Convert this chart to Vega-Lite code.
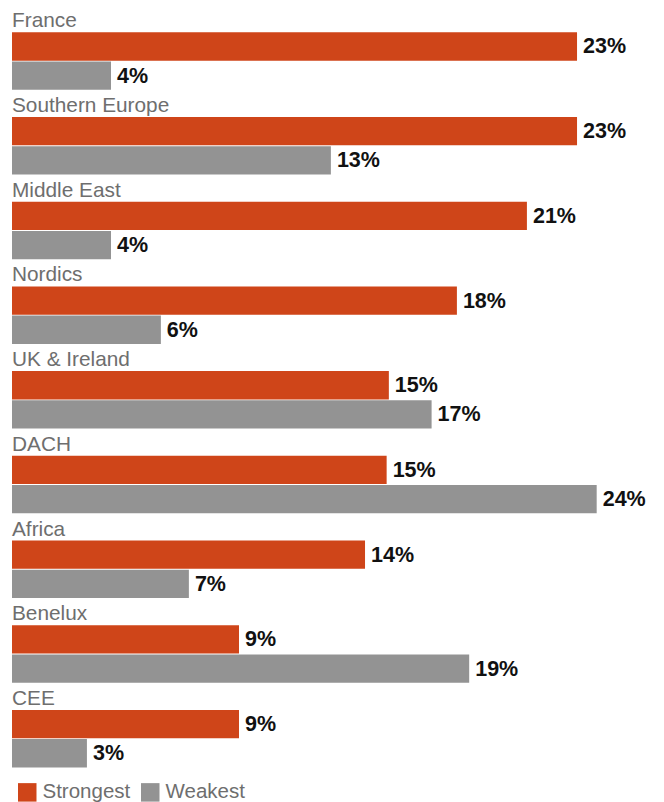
{
  "$schema": "https://vega.github.io/schema/vega-lite/v6.json",
  "width": 652,
  "height": 802,
  "autosize": {"type": "none"},
  "padding": {"left": 12, "top": 0, "right": 0, "bottom": 0},
  "config": {"font": "Liberation Sans", "view": {"stroke": null}},
  "data": {
    "values": [
      {"region": "France", "series": "Strongest", "value": 23.0, "label": "23%"},
      {"region": "France", "series": "Weakest", "value": 4.03, "label": "4%"},
      {"region": "Southern Europe", "series": "Strongest", "value": 23.0, "label": "23%"},
      {"region": "Southern Europe", "series": "Weakest", "value": 12.98, "label": "13%"},
      {"region": "Middle East", "series": "Strongest", "value": 20.96, "label": "21%"},
      {"region": "Middle East", "series": "Weakest", "value": 4.03, "label": "4%"},
      {"region": "Nordics", "series": "Strongest", "value": 18.11, "label": "18%"},
      {"region": "Nordics", "series": "Weakest", "value": 6.06, "label": "6%"},
      {"region": "UK & Ireland", "series": "Strongest", "value": 15.34, "label": "15%"},
      {"region": "UK & Ireland", "series": "Weakest", "value": 17.08, "label": "17%"},
      {"region": "DACH", "series": "Strongest", "value": 15.25, "label": "15%"},
      {"region": "DACH", "series": "Weakest", "value": 23.8, "label": "24%"},
      {"region": "Africa", "series": "Strongest", "value": 14.37, "label": "14%"},
      {"region": "Africa", "series": "Weakest", "value": 7.2, "label": "7%"},
      {"region": "Benelux", "series": "Strongest", "value": 9.24, "label": "9%"},
      {"region": "Benelux", "series": "Weakest", "value": 18.61, "label": "19%"},
      {"region": "CEE", "series": "Strongest", "value": 9.24, "label": "9%"},
      {"region": "CEE", "series": "Weakest", "value": 3.05, "label": "3%"}
    ]
  },
  "encoding": {
    "y": {
      "field": "region",
      "type": "nominal",
      "sort": null,
      "axis": null,
      "scale": {"type": "band", "paddingInner": 0.321, "paddingOuter": 0.395, "align": 0.483}
    }
  },
  "layer": [
    {
      "mark": {"type": "bar"},
      "encoding": {
        "yOffset": {"field": "series", "type": "nominal", "scale": {"paddingInner": 0.03, "paddingOuter": 0}},
        "x": {"field": "value", "type": "quantitative", "axis": null, "scale": {"domain": [0, 26.54], "nice": false, "zero": true}},
        "color": {
          "field": "series",
          "type": "nominal",
          "scale": {"domain": ["Strongest", "Weakest"], "range": ["#cf4519", "#939393"]},
          "legend": {
            "title": null,
            "orient": "none",
            "legendX": 5,
            "legendY": 782,
            "direction": "horizontal",
            "symbolType": "square",
            "symbolSize": 342,
            "symbolStrokeWidth": 0,
            "symbolOpacity": 1,
            "labelFontSize": 20.5,
            "labelColor": "#6e6e6e",
            "labelOffset": 5,
            "columnPadding": 9,
            "padding": 0
          }
        }
      }
    },
    {
      "mark": {"type": "text", "align": "left", "baseline": "middle", "dx": 6, "dy": 1, "fontSize": 21.5, "fontWeight": "bold", "color": "#111111"},
      "encoding": {
        "yOffset": {"field": "series", "type": "nominal", "scale": {"paddingInner": 0.03, "paddingOuter": 0}},
        "x": {"field": "value", "type": "quantitative"},
        "text": {"field": "label"}
      }
    },
    {
      "transform": [{"filter": "datum.series === 'Strongest'"}],
      "mark": {"type": "text", "align": "left", "baseline": "alphabetic", "dy": -5, "fontSize": 20.8, "color": "#6e6e6e"},
      "encoding": {
        "y": {"field": "region", "type": "nominal", "sort": null, "bandPosition": 0},
        "x": {"datum": 0, "type": "quantitative"},
        "text": {"field": "region"}
      }
    }
  ]
}
